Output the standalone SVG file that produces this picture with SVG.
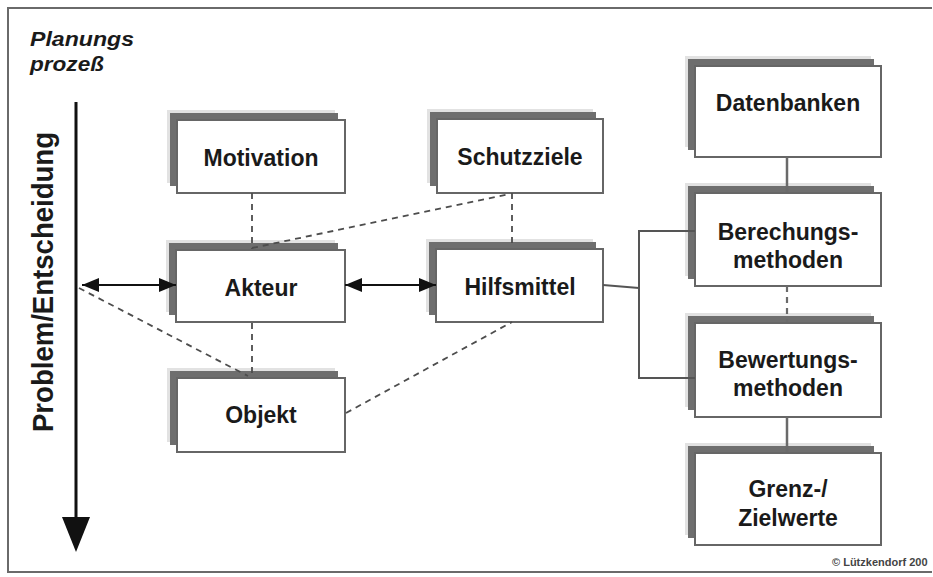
<svg xmlns="http://www.w3.org/2000/svg" width="933" height="577" viewBox="0 0 933 577">
  <style>
    .frame { fill: none; stroke: #6a6a6a; stroke-width: 2; }
    .halo { fill: #e2e2e2; }
    .shade { fill: #6e6e6e; }
    .face { fill: #ffffff; stroke: #666666; stroke-width: 2; }
    .lbl { font-family: "Liberation Sans", Arial, sans-serif; font-weight: bold; font-size: 23px; fill: #1a1a1a; text-anchor: middle; }
    .title { font-family: "Liberation Sans", Arial, sans-serif; font-weight: bold; font-style: italic; font-size: 21px; fill: #1a1a1a; }
    .dash { fill: none; stroke: #4d4d4d; stroke-width: 1.8; stroke-dasharray: 6 5; }
    .solid { fill: none; stroke: #6a6a6a; stroke-width: 2.5; }
    .bracket { fill: none; stroke: #555555; stroke-width: 2; }
    .arrow { fill: none; stroke: #111111; stroke-width: 2; }
  </style>
  <defs>
    <marker id="head" markerUnits="userSpaceOnUse" markerWidth="17" markerHeight="14" viewBox="0 0 17 14" refX="17" refY="7" orient="auto-start-reverse">
      <path d="M0,0 L17,7 L0,14 z" fill="#111111"/>
    </marker>
  </defs>

  <rect width="933" height="577" fill="#ffffff"/>
  <!-- outer frame -->
  <path class="frame" d="M932,8 H8 V572 H932"/>

  <!-- process axis -->
  <g id="axis">
    <text class="title" x="30" y="46" textLength="104" lengthAdjust="spacingAndGlyphs">Planungs</text>
    <text class="title" x="30" y="70.5" textLength="74" lengthAdjust="spacingAndGlyphs">prozeß</text>
    <line x1="76" y1="102" x2="76" y2="522" stroke="#111111" stroke-width="3"/>
    <polygon points="62,517 90,517 76,552" fill="#111111"/>
    <text transform="translate(53,432) rotate(-90)" font-family="Liberation Sans, Arial, sans-serif" font-weight="bold" font-size="29" fill="#1a1a1a" textLength="300" lengthAdjust="spacingAndGlyphs">Problem/Entscheidung</text>
  </g>

  <!-- nodes -->
  <g id="motivation">
    <rect class="halo" x="167" y="110" width="168" height="73"/>
    <rect class="shade" x="170" y="113" width="168" height="73"/>
    <rect class="face" x="177" y="120" width="168" height="73"/>
    <text class="lbl" x="261" y="166">Motivation</text>
  </g>
  <g id="akteur">
    <rect class="halo" x="166" y="240" width="169" height="72"/>
    <rect class="shade" x="169" y="243" width="169" height="72"/>
    <rect class="face" x="176" y="250" width="169" height="72"/>
    <text class="lbl" x="261" y="296">Akteur</text>
  </g>
  <g id="objekt">
    <rect class="halo" x="167" y="368" width="168" height="74"/>
    <rect class="shade" x="170" y="371" width="168" height="74"/>
    <rect class="face" x="177" y="378" width="168" height="74"/>
    <text class="lbl" x="261" y="423">Objekt</text>
  </g>
  <g id="schutzziele">
    <rect class="halo" x="427" y="109" width="166" height="74"/>
    <rect class="shade" x="430" y="112" width="166" height="74"/>
    <rect class="face" x="437" y="119" width="166" height="74"/>
    <text class="lbl" x="520" y="165">Schutzziele</text>
  </g>
  <g id="hilfsmittel">
    <rect class="halo" x="426" y="239" width="167" height="73"/>
    <rect class="shade" x="429" y="242" width="167" height="73"/>
    <rect class="face" x="436" y="249" width="167" height="73"/>
    <text class="lbl" x="520" y="295">Hilfsmittel</text>
  </g>
  <g id="datenbanken">
    <rect class="halo" x="685" y="56" width="186" height="91"/>
    <rect class="shade" x="688" y="59" width="186" height="91"/>
    <rect class="face" x="695" y="66" width="186" height="91"/>
    <text class="lbl" x="788" y="111">Datenbanken</text>
  </g>
  <g id="berechungsmethoden">
    <rect class="halo" x="685" y="183" width="186" height="93"/>
    <rect class="shade" x="688" y="186" width="186" height="93"/>
    <rect class="face" x="695" y="193" width="186" height="93"/>
    <text class="lbl" x="788" y="240">Berechungs-</text>
    <text class="lbl" x="788" y="268">methoden</text>
  </g>
  <g id="bewertungsmethoden">
    <rect class="halo" x="685" y="313" width="186" height="94"/>
    <rect class="shade" x="688" y="316" width="186" height="94"/>
    <rect class="face" x="695" y="323" width="186" height="94"/>
    <text class="lbl" x="788" y="368">Bewertungs-</text>
    <text class="lbl" x="788" y="396">methoden</text>
  </g>
  <g id="zielwerte">
    <rect class="halo" x="685" y="443" width="186" height="92"/>
    <rect class="shade" x="688" y="446" width="186" height="92"/>
    <rect class="face" x="695" y="453" width="186" height="92"/>
    <text class="lbl" x="788" y="497">Grenz-/</text>
    <text class="lbl" x="788" y="526">Zielwerte</text>
  </g>

  <!-- connectors, drawn over the box shadows -->
  <g id="connectors">
    <line class="dash" x1="252" y1="193" x2="252" y2="249"/>
    <line class="dash" x1="252" y1="323" x2="252" y2="377"/>
    <line class="dash" x1="512" y1="193" x2="512" y2="248"/>
    <line class="dash" x1="252" y1="248" x2="510" y2="194"/>
    <line class="dash" x1="79" y1="288" x2="248" y2="376"/>
    <line class="dash" x1="346" y1="413" x2="512" y2="322"/>
    <line class="arrow" x1="345" y1="285" x2="436" y2="285" marker-start="url(#head)" marker-end="url(#head)"/>
    <line class="arrow" x1="82" y1="285" x2="176" y2="285" marker-start="url(#head)" marker-end="url(#head)"/>
    <path class="bracket" d="M603,285 L639,288"/>
    <path class="bracket" d="M695,231 H639 V378 H695"/>
    <line class="solid" x1="787" y1="157" x2="787" y2="192"/>
    <line class="dash" x1="787" y1="286" x2="787" y2="322" style="stroke:#6a6a6a;stroke-width:2.2"/>
    <line class="solid" x1="787" y1="417" x2="787" y2="452"/>
  </g>

  <text x="832" y="566" font-family="Liberation Sans, Arial, sans-serif" font-weight="bold" font-size="11" fill="#444444">© Lützkendorf 200</text>
</svg>
